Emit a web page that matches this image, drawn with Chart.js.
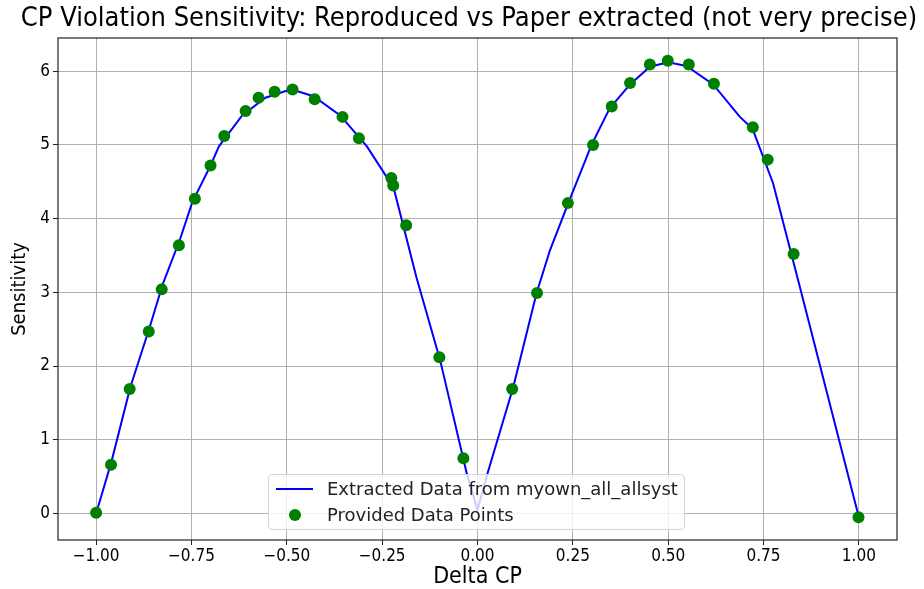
<!DOCTYPE html>
<html>
<head>
<meta charset="utf-8">
<script src="https://cdn.jsdelivr.net/npm/chart.js@4.4.0/dist/chart.umd.min.js"></script>
<style>
  html, body { margin: 0; padding: 0; background: #fff; }
  #wrap { position: relative; width: 924px; height: 589px; }
  #legend {
    position: absolute; left: 268px; top: 474px; width: 417px; height: 56px;
    box-sizing: border-box; border: 1px solid #d4d4d4; border-radius: 4px;
    background: rgba(255,255,255,0.8);
    font-family: 'DejaVu Sans', sans-serif; font-size: 18px; color: #222;
  }
  .item { position: absolute; left: 0; height: 22px; line-height: 22px; white-space: nowrap; }
  .item span.txt { position: absolute; left: 58px; }
  .swatch-line { position: absolute; left: 7px; top: 10px; width: 37px; height: 2px; }
  .swatch-dot { position: absolute; left: 20px; top: 5px; width: 12px; height: 12px; border-radius: 50%; }
</style>
</head>
<body>
<div id="wrap">
  <canvas id="myChart" width="924" height="589"></canvas>
  <div id="legend"></div>
</div>
<script>
// extracted curve (myown_all_allsyst)
var curveX = [-1.00, -0.96, -0.91, -0.86, -0.826, -0.78, -0.748, -0.70, -0.678, -0.617,
              -0.556, -0.503, -0.48, -0.43, -0.36, -0.29, -0.22, -0.16, -0.098, -0.028,
              0.00, 0.026, 0.094, 0.155, 0.19, 0.238, 0.299, 0.347, 0.40, 0.452,
              0.50, 0.548, 0.618, 0.688, 0.721, 0.775, 0.845, 1.00];
var curveY = [0.00, 0.70, 1.72, 2.52, 3.10, 3.72, 4.22, 4.72, 4.98, 5.40,
              5.64, 5.73, 5.74, 5.66, 5.40, 4.98, 4.42, 3.20, 2.08, 0.54,
              0.05, 0.54, 1.72, 2.99, 3.57, 4.21, 5.00, 5.50, 5.82, 6.06,
              6.12, 6.07, 5.82, 5.38, 5.22, 4.48, 3.08, -0.05];

// data points provided by the paper
var pointsX = [-1.00, -0.961, -0.912, -0.862, -0.828, -0.783, -0.741, -0.700, -0.664, -0.608,
               -0.574, -0.532, -0.485, -0.427, -0.354, -0.311, -0.226, -0.221, -0.187, -0.100,
               -0.037, 0.091, 0.156, 0.237, 0.303, 0.352, 0.400, 0.452, 0.499, 0.554,
               0.620, 0.722, 0.761, 0.829, 0.999];
var pointsY = [0.01, 0.66, 1.69, 2.47, 3.04, 3.64, 4.27, 4.72, 5.12, 5.46,
               5.64, 5.72, 5.75, 5.62, 5.38, 5.09, 4.55, 4.45, 3.91, 2.12,
               0.75, 1.69, 2.99, 4.21, 5.00, 5.52, 5.84, 6.09, 6.14, 6.09,
               5.83, 5.24, 4.80, 3.52, -0.05];

var xTicks = [-1.0, -0.75, -0.5, -0.25, 0, 0.25, 0.5, 0.75, 1.0];
var yTicks = [0, 1, 2, 3, 4, 5, 6];

var chartTitle = 'CP Violation Sensitivity: Reproduced vs Paper extracted (not very precise)';
var lineLabel = 'Extracted Data from myown_all_allsyst';
var pointLabel = 'Provided Data Points';

function toXY(xs, ys) {
  return xs.map(function (x, i) { return { x: x, y: ys[i] }; });
}

var FONT = "'DejaVu Sans Condensed', 'DejaVu Sans', sans-serif";

// full black frame round the plot area
var frame = {
  id: 'frame',
  afterDatasetsDraw: function (chart) {
    var a = chart.chartArea, c = chart.ctx;
    c.save();
    c.strokeStyle = '#222';
    c.lineWidth = 1.2;
    c.strokeRect(a.left, a.top, a.right - a.left, a.bottom - a.top);
    c.restore();
  }
};

// title drawn over the plot (the built-in one centres on the padded box)
var topTitle = {
  id: 'topTitle',
  afterDraw: function (chart) {
    var c = chart.ctx;
    c.save();
    c.font = '27px ' + FONT;
    c.fillStyle = '#000';
    c.textAlign = 'center';
    c.textBaseline = 'middle';
    c.fillText(chartTitle, 469, 19);
    c.restore();
  }
};

var ctx = document.getElementById('myChart').getContext('2d');
var myChart = new Chart(ctx, {
  type: 'scatter',
  data: {
    datasets: [
      {
        label: pointLabel,
        data: toXY(pointsX, pointsY),
        backgroundColor: '#008000',
        borderColor: '#008000',
        pointRadius: 6,
        pointBorderWidth: 0,
        order: 0
      },
      {
        label: lineLabel,
        data: toXY(curveX, curveY),
        showLine: true,
        borderColor: '#0000ff',
        borderWidth: 2,
        pointRadius: 0,
        fill: false,
        order: 1
      }
    ]
  },
  options: {
    responsive: false,
    animation: false,
    layout: { padding: { left: 0, right: 27, top: 38, bottom: 0 } },
    plugins: {
      legend: { display: false },
      tooltip: { enabled: false },
      title: { display: false }
    },
    scales: {
      x: {
        type: 'linear',
        min: -1.1,
        max: 1.1,
        afterBuildTicks: function (s) { s.ticks = xTicks.map(function (v) { return { value: v }; }); },
        afterFit: function (s) { s.height = 49; },
        border: { display: false },
        grid: { color: '#b0b0b0', lineWidth: 1, tickLength: 5, tickColor: '#222' },
        ticks: {
          color: '#000', padding: 1,
          font: { family: FONT, size: 17 },
          callback: function (v) { return v.toFixed(2).replace('-', '\u2212'); }
        },
        title: {
          display: true, text: 'Delta CP', color: '#000',
          font: { family: FONT, size: 23, lineHeight: 1.0 }, padding: { top: 0, bottom: 0 }
        }
      },
      y: {
        type: 'linear',
        min: -0.36,
        max: 6.45,
        afterBuildTicks: function (s) { s.ticks = yTicks.map(function (v) { return { value: v }; }); },
        afterFit: function (s) { s.width = 58; },
        border: { display: false },
        grid: { color: '#b0b0b0', lineWidth: 1, tickLength: 5, tickColor: '#222' },
        ticks: {
          color: '#000', padding: 3,
          font: { family: FONT, size: 17 },
          callback: function (v) { return String(v); }
        },
        title: {
          display: true, text: 'Sensitivity', color: '#000',
          font: { family: FONT, size: 20 }, padding: { top: 8, bottom: 0 }
        }
      }
    }
  },
  plugins: [frame, topTitle]
});

// legend box inside the plot, built from the datasets
var legend = document.getElementById('legend');
var lineDs = myChart.data.datasets[1];
var ptDs = myChart.data.datasets[0];
legend.innerHTML =
  '<div class="item" style="top:3px"><div class="swatch-line" style="background:' + lineDs.borderColor + '"></div>' +
  '<span class="txt">' + lineDs.label + '</span></div>' +
  '<div class="item" style="top:29px"><div class="swatch-dot" style="background:' + ptDs.backgroundColor + '"></div>' +
  '<span class="txt">' + ptDs.label + '</span></div>';
</script>
</body>
</html>
